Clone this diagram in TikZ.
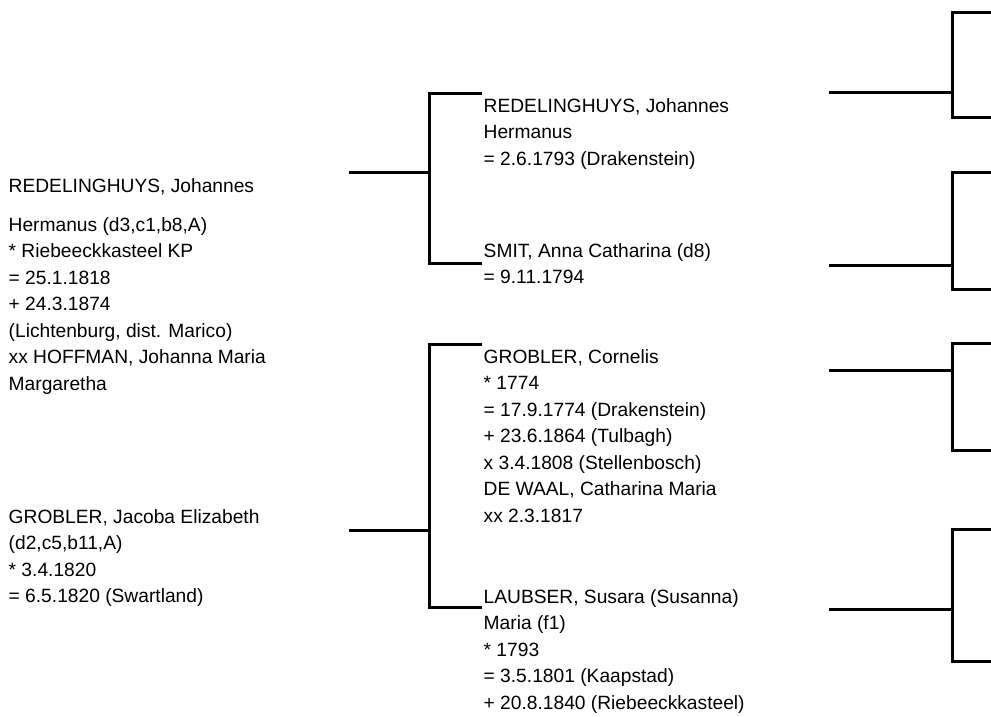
\documentclass[tikz,border=0pt]{standalone}
\usepackage{fontspec}
\setmainfont{Liberation Sans}
\begin{document}
\begin{tikzpicture}[x=1pt,y=-1pt,
  person/.style={anchor=north west,inner sep=0pt,align=left,
    font=\fontsize{19.2}{26.5}\selectfont},
  link/.style={line width=3pt,line join=miter,line cap=rect}]
\useasboundingbox (0,0) rectangle (991,716);
% --- text nodes (y = baseline - 18.55) ---
\node[person] (L1) at (8.5,173.5) {\strut REDELINGHUYS, Johannes\\[12.5pt]
Hermanus (d3,c1,b8,A)\\* Riebeeckkasteel KP\\= 25.1.1818\\+ 24.3.1874\\
(Lichtenburg, dist. Marico)\\xx HOFFMAN, Johanna Maria\\Margaretha};
\node[person] (L2) at (8.5,504.5) {\strut GROBLER, Jacoba Elizabeth\\(d2,c5,b11,A)\\* 3.4.1820\\= 6.5.1820 (Swartland)};
\node[person] (M1) at (483.5,93.5) {\strut REDELINGHUYS, Johannes\\Hermanus\\= 2.6.1793 (Drakenstein)};
\node[person] (M2) at (483.5,238.5) {\strut SMIT, Anna Catharina (d8)\\= 9.11.1794};
\node[person] (M3) at (483.5,344.5) {\strut GROBLER, Cornelis\\* 1774\\= 17.9.1774 (Drakenstein)\\+ 23.6.1864 (Tulbagh)\\x 3.4.1808 (Stellenbosch)\\DE WAAL, Catharina Maria\\xx 2.3.1817};
\node[person] (M4) at (483.5,584.5) {\strut LAUBSER, Susara (Susanna)\\Maria (f1)\\* 1793\\= 3.5.1801 (Kaapstad)\\+ 20.8.1840 (Riebeeckkasteel)};
% --- left brackets ---
\coordinate (s1) at (350,172); \coordinate (j1) at (429,172);
\coordinate (j1t) at (429,93.3); \coordinate (j1b) at (429,263);
\coordinate (e1t) at (480,93.3); \coordinate (e1b) at (480,263);
\draw[link] (s1) -- (j1);
\draw[link] (e1t) -- (j1t) -- (j1b) -- (e1b);
\coordinate (s2) at (350,530); \coordinate (j2) at (429,530);
\coordinate (j2t) at (429,344); \coordinate (j2b) at (429,607);
\coordinate (e2t) at (480,344); \coordinate (e2b) at (480,607);
\draw[link] (s2) -- (j2);
\draw[link] (e2t) -- (j2t) -- (j2b) -- (e2b);
% --- right brackets ---
\foreach \n/\s/\t/\b in {a/92/12.7/117.7, b/265/172.3/289.3, c/370/343.3/450, d/609.3/529.7/661.7}{
  \coordinate (rs\n) at (830,\s); \coordinate (rj\n) at (952,\s);
  \coordinate (rt\n) at (952,\t); \coordinate (rb\n) at (952,\b);
  \coordinate (ret\n) at (995,\t); \coordinate (reb\n) at (995,\b);
  \draw[link] (rs\n) -- (rj\n);
  \draw[link] (ret\n) -- (rt\n) -- (rb\n) -- (reb\n);
}
\end{tikzpicture}
\end{document}
